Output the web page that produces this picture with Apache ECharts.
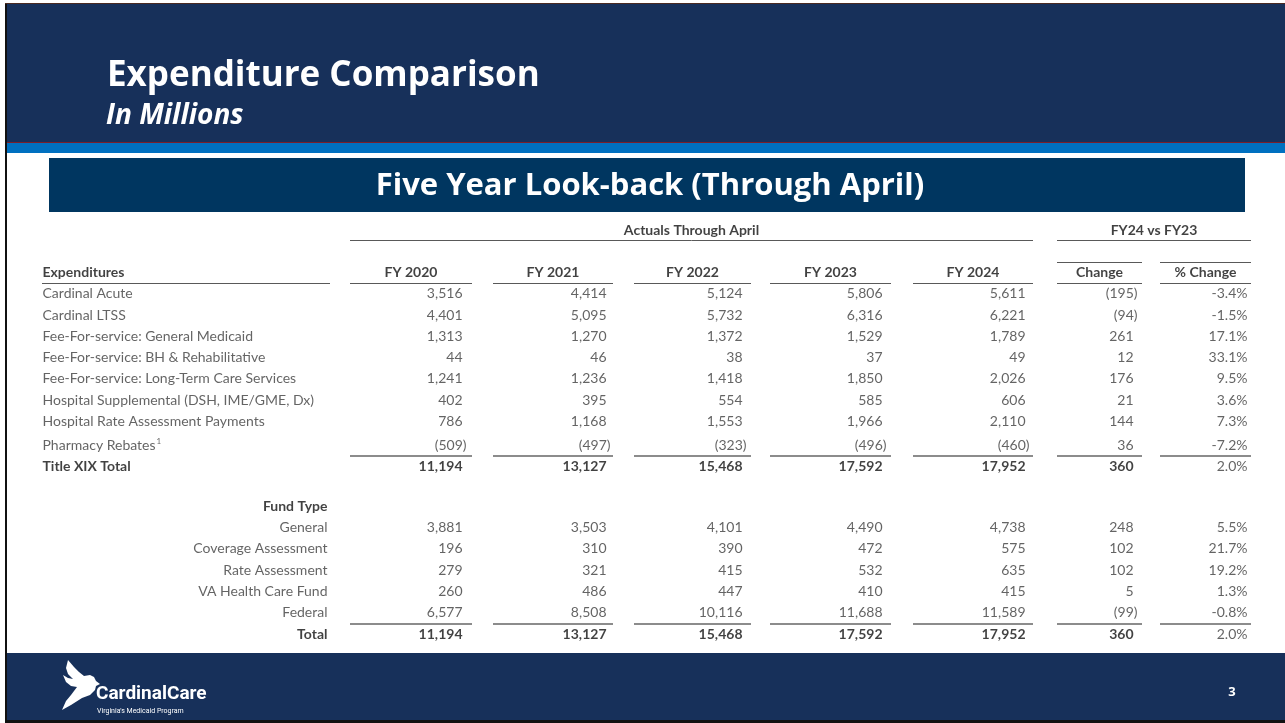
<!DOCTYPE html>
<html>
<head>
    <meta charset="utf-8">
    <title>Expenditure Comparison</title>
    <script src="https://cdn.jsdelivr.net/npm/echarts@6/dist/echarts.min.js"></script>
    <style>
        html, body { margin: 0; padding: 0; background: #fff; }
        #main { width: 1285px; height: 723px; }
    </style>
</head>
<body>
<div id="main"></div>
<script type="text/javascript">
    // ---- data (in millions) ----
    var years = ['FY 2020', 'FY 2021', 'FY 2022', 'FY 2023', 'FY 2024'];
    var expNames = ['Cardinal Acute', 'Cardinal LTSS', 'Fee-For-service: General Medicaid',
        'Fee-For-service: BH & Rehabilitative', 'Fee-For-service: Long-Term Care Services',
        'Hospital Supplemental (DSH, IME/GME, Dx)', 'Hospital Rate Assessment Payments', 'Pharmacy Rebates'];
    var exp2020 = [3516, 4401, 1313, 44, 1241, 402, 786, -509];
    var exp2021 = [4414, 5095, 1270, 46, 1236, 395, 1168, -497];
    var exp2022 = [5124, 5732, 1372, 38, 1418, 554, 1553, -323];
    var exp2023 = [5806, 6316, 1529, 37, 1850, 585, 1966, -496];
    var exp2024 = [5611, 6221, 1789, 49, 2026, 606, 2110, -460];
    var expChange = [-195, -94, 261, 12, 176, 21, 144, 36];
    var expPct = [-3.4, -1.5, 17.1, 33.1, 9.5, 3.6, 7.3, -7.2];
    var titleXIX = [11194, 13127, 15468, 17592, 17952];
    var titleXIXChange = 360;
    var titleXIXPct = 2.0;

    var fundNames = ['General', 'Coverage Assessment', 'Rate Assessment', 'VA Health Care Fund', 'Federal'];
    var fund2020 = [3881, 196, 279, 260, 6577];
    var fund2021 = [3503, 310, 321, 486, 8508];
    var fund2022 = [4101, 390, 415, 447, 10116];
    var fund2023 = [4490, 472, 532, 410, 11688];
    var fund2024 = [4738, 575, 635, 415, 11589];
    var fundChange = [248, 102, 102, 5, -99];
    var fundPct = [5.5, 21.7, 19.2, 1.3, -0.8];
    var fundTotal = [11194, 13127, 15468, 17592, 17952];
    var fundTotalChange = 360;
    var fundTotalPct = 2.0;

    // ---- table layout (x in px, y in row slots) ----
    var colRanges = [[350, 472], [493, 613], [634, 751], [770, 891], [913, 1033], [1057, 1142], [1160, 1251]];
    var colRight = [467, 611, 747, 887, 1030, 1138, 1248];
    var labelLeft = 42, fundRight = 328;
    var FONT = 'Lato';
    var GREY = '#3d3d3d', DARK = '#111';

    function fmtNum(v) {
        var s = Math.abs(v).toLocaleString('en-US');
        return v < 0 ? '(' + s + ')' : s;
    }
    function fmtPct(v) { return v.toFixed(1) + '%'; }

    function cell(x, row, txt, bold, padParen) {
        return {
            value: [x, row], txt: txt,
            label: {
                offset: [padParen ? -4 : 0, 0],
                fontWeight: bold ? 'bold' : 'normal',
                color: bold ? DARK : GREY
            }
        };
    }

    var rightCells = [];   // right aligned text
    var leftCells = [];    // left aligned text
    var centerCells = [];  // centred headers

    var expCols = [exp2020, exp2021, exp2022, exp2023, exp2024];
    var fundCols = [fund2020, fund2021, fund2022, fund2023, fund2024];

    // header rows
    centerCells.push(cell((colRanges[0][0] + colRanges[4][1]) / 2, 0, 'Actuals Through April', true));
    centerCells.push(cell((colRanges[5][0] + colRanges[6][1]) / 2, 0, 'FY24 vs FY23', true));
    years.concat(['Change', '% Change']).forEach(function (h, c) {
        centerCells.push(cell((colRanges[c][0] + colRanges[c][1]) / 2, 2, h, true));
    });
    leftCells.push(cell(labelLeft, 2, 'Expenditures', true));

    // expenditure rows (pharmacy row sits a little lower because of the footnote mark)
    expNames.forEach(function (n, i) {
        var row = 3 + i + (i === 7 ? 0.15 : 0);
        leftCells.push(cell(labelLeft, row, i === 7 ? '{t|' + n + '}{sup|1}' : n, false));
        expCols.forEach(function (col, c) {
            rightCells.push(cell(colRight[c], row, fmtNum(col[i]), false, col[i] >= 0));
        });
        rightCells.push(cell(colRight[5], row, fmtNum(expChange[i]), false, expChange[i] >= 0));
        rightCells.push(cell(colRight[6], row, fmtPct(expPct[i]), false));
    });
    leftCells.push(cell(labelLeft, 11.1, 'Title XIX Total', true));
    titleXIX.forEach(function (v, c) {
        rightCells.push(cell(colRight[c], 11.1, fmtNum(v), true, v >= 0));
    });
    rightCells.push(cell(colRight[5], 11.1, fmtNum(titleXIXChange), true, true));
    rightCells.push(cell(colRight[6], 11.1, fmtPct(titleXIXPct), false));

    // fund type rows
    rightCells.push(cell(fundRight, 13, 'Fund Type', true));
    fundNames.forEach(function (n, i) {
        var row = 14 + i;
        rightCells.push(cell(fundRight, row, n, false));
        fundCols.forEach(function (col, c) {
            rightCells.push(cell(colRight[c], row, fmtNum(col[i]), false, col[i] >= 0));
        });
        rightCells.push(cell(colRight[5], row, fmtNum(fundChange[i]), false, fundChange[i] >= 0));
        rightCells.push(cell(colRight[6], row, fmtPct(fundPct[i]), false));
    });
    rightCells.push(cell(fundRight, 19, 'Total', true));
    fundTotal.forEach(function (v, c) {
        rightCells.push(cell(colRight[c], 19, fmtNum(v), true, v >= 0));
    });
    rightCells.push(cell(colRight[5], 19, fmtNum(fundTotalChange), true, true));
    rightCells.push(cell(colRight[6], 19, fmtPct(fundTotalPct), false));

    // table rules
    function seg(x1, x2, row, color, width) {
        return [{coord: [x1, row], lineStyle: {color: color, width: width, type: 'solid'}}, {coord: [x2, row]}];
    }
    var rules = [];
    var HL = '#595959', TL = '#8c8c8c';
    rules.push(seg(colRanges[0][0], colRanges[4][1], 0.5, HL, 1));
    rules.push(seg(colRanges[5][0], colRanges[6][1], 0.5, HL, 1));
    rules.push(seg(colRanges[5][0], colRanges[5][1], 1.5, HL, 1));
    rules.push(seg(colRanges[6][0], colRanges[6][1], 1.5, HL, 1));
    rules.push(seg(labelLeft, 330, 2.5, HL, 1));
    colRanges.forEach(function (r) {
        rules.push(seg(r[0], r[1], 2.5, HL, 1));
        rules.push(seg(r[0], r[1], 10.6, TL, 2));
        rules.push(seg(r[0], r[1], 18.5, TL, 2));
    });

    function textSeries(name, cells, position) {
        return {
            name: name, type: 'scatter', data: cells, symbolSize: 1, silent: true,
            itemStyle: {color: 'rgba(0,0,0,0)'},
            label: {
                show: true, position: position, distance: 0,
                fontFamily: FONT, fontSize: 14, color: GREY,
                formatter: function (p) { return p.data.txt; },
                rich: {
                    t: {fontFamily: FONT, fontSize: 14, color: GREY},
                    sup: {fontFamily: FONT, fontSize: 8, color: GREY, padding: [0, 0, 8, 1]}
                }
            }
        };
    }

    // rough cardinal silhouette for the footer logo
    var birdPts = [[6, 0], [4, 8], [6, 14], [11, 19], [6, 18], [1, 15], [4, 22], [9, 26], [15, 27], [9, 35],
        [4, 41], [0, 50], [9, 45], [20, 38], [28, 35], [33, 30], [34, 26], [38, 24], [34, 21], [32, 17],
        [28, 15], [22, 16], [17, 12], [12, 7]];

    var NAVY = '#17305a';
    var myChart = echarts.init(document.getElementById('main'));
    myChart.setOption({
        animation: false,
        backgroundColor: '#fff',
        grid: {left: 0, top: 230, width: 1285, height: 404},
        xAxis: {type: 'value', min: 0, max: 1285, show: false},
        yAxis: {type: 'value', min: 0, max: 19, inverse: true, show: false},
        graphic: [
            {type: 'rect', shape: {x: 7, y: 4, width: 1278, height: 139}, style: {fill: NAVY}, z: -10},
            {type: 'rect', shape: {x: 7, y: 142, width: 1278, height: 1}, style: {fill: '#7a1f2b'}, z: -9},
            {type: 'rect', shape: {x: 7, y: 143, width: 1278, height: 10}, style: {fill: '#0070c0'}, z: -9},
            {type: 'rect', shape: {x: 5, y: 3, width: 2, height: 720}, style: {fill: '#111'}, z: -8},
            {type: 'rect', shape: {x: 5, y: 3, width: 1280, height: 1}, style: {fill: '#4a2a22'}, z: -8},
            {type: 'rect', shape: {x: 49, y: 158, width: 1196, height: 54}, style: {fill: '#003660'}, z: -9},
            {type: 'rect', shape: {x: 7, y: 653, width: 1278, height: 67}, style: {fill: NAVY}, z: -10},
            {type: 'rect', shape: {x: 5, y: 720, width: 1280, height: 3}, style: {fill: '#111'}, z: -8},
            {type: 'text', x: 107, y: 76, style: {text: 'Expenditure Comparison', fill: '#fff',
                    font: 'bold 35px "Open Sans"', textVerticalAlign: 'middle'}},
            {type: 'text', x: 106, y: 116, style: {text: 'In Millions', fill: '#fff',
                    font: 'italic bold 28px "Open Sans"', textVerticalAlign: 'middle'}},
            {type: 'text', x: 650, y: 186, style: {text: 'Five Year Look-back (Through April)', fill: '#fff',
                    font: 'bold 31px "Open Sans"', textAlign: 'center', textVerticalAlign: 'middle'}},
            {type: 'polygon', x: 62, y: 660, shape: {points: birdPts}, style: {fill: '#fff'}},
            {type: 'text', x: 96, y: 694, style: {text: 'CardinalCare', fill: '#fff',
                    font: 'bold 19px Roboto', textVerticalAlign: 'middle'}},
            {type: 'text', x: 97, y: 711, style: {text: "Virginia's Medicaid Program", fill: '#fff',
                    font: '7px Roboto', textVerticalAlign: 'middle'}},
            {type: 'text', x: 1232, y: 692, style: {text: '3', fill: '#fff', font: 'bold 13px "Open Sans"',
                    textAlign: 'center', textVerticalAlign: 'middle'}}
        ],
        series: [
            textSeries('right', rightCells, 'left'),
            textSeries('left', leftCells, 'right'),
            textSeries('center', centerCells, 'inside'),
            {
                name: 'rules', type: 'line', data: [], silent: true,
                markLine: {symbol: 'none', silent: true, label: {show: false},
                    lineStyle: {type: 'solid'}, data: rules}
            }
        ]
    });
</script>
</body>
</html>
